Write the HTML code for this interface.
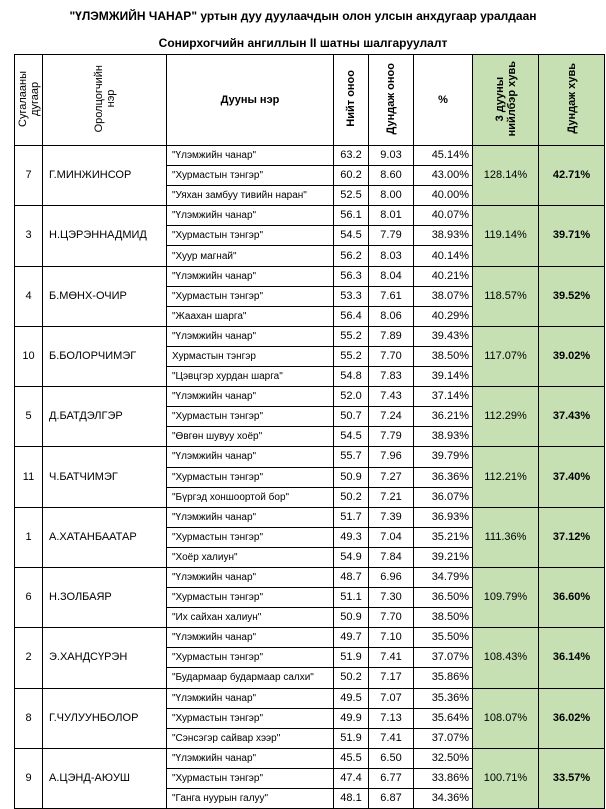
<!DOCTYPE html>
<html><head><meta charset="utf-8">
<style>
body{margin:0;width:606px;height:808px;background:#fff;overflow:hidden;font-family:"Liberation Sans",Arial,sans-serif;color:#000}
.t{position:absolute;left:0;width:606px;text-align:center;font-weight:bold;font-size:12px}
table{position:absolute;left:14px;top:54px;border-collapse:collapse;table-layout:fixed;font-size:11px}
td{border:1px solid #000;padding:0;height:19.1px;line-height:19px;overflow:hidden;white-space:nowrap}
th{border:1px solid #000;height:90px;font-weight:bold;font-size:11px;padding:0}
.v{writing-mode:vertical-rl;transform:rotate(180deg);display:inline-block;line-height:12px;text-align:center}
.g{background:#c6e0b4}
.c{text-align:center}
.r{text-align:right;padding-right:3px}
</style></head><body>
<div class="t" style="top:9px">"ҮЛЭМЖИЙН ЧАНАР" уртын дуу дуулаачдын олон улсын анхдугаар уралдаан</div>
<div class="t" style="top:36px">Сонирхогчийн ангиллын II шатны шалгаруулалт</div>
<table>
<colgroup><col style="width:28px"><col style="width:124px"><col style="width:167px"><col style="width:35px"><col style="width:45px"><col style="width:59px"><col style="width:66px"><col style="width:66px"></colgroup>
<thead><tr>
<th><span class="v" style="font-weight:normal">Сугалааны<br>дугаар</span></th>
<th><span class="v" style="font-weight:normal">Оролцогчийн<br>нэр</span></th>
<th>Дууны нэр</th>
<th><span class="v">Нийт оноо</span></th>
<th><span class="v">Дундаж оноо</span></th>
<th>%</th>
<th class="g"><span class="v">3 дууны<br>нийлбэр хувь</span></th>
<th class="g"><span class="v">Дундаж хувь</span></th>
</tr></thead>
<tbody id="tb"></tbody>
</table>
<script>
const nums=["7","3","4","10","5","11","1","6","2","8","9"];
const names=["Г.МИНЖИНСОР","Н.ЦЭРЭННАДМИД","Б.МӨНХ-ОЧИР","Б.БОЛОРЧИМЭГ","Д.БАТДЭЛГЭР","Ч.БАТЧИМЭГ","А.ХАТАНБААТАР","Н.ЗОЛБАЯР","Э.ХАНДСҮРЭН","Г.ЧУЛУУНБОЛОР","А.ЦЭНД-АЮУШ"];
const third=['"Уяхан замбуу тивийн наран"','"Хуур магнай"','"Жаахан шарга"','"Цэвцгэр хурдан шарга"','"Өвгөн шувуу хоёр"','"Бүргэд хоншоортой бор"','"Хоёр халиун"','"Их сайхан халиун"','"Будармаар будармаар салхи"','"Сэнсэгэр сайвар хээр"','"Ганга нуурын галуу"'];
const totals=[[63.2,60.2,52.5],[56.1,54.5,56.2],[56.3,53.3,56.4],[55.2,55.2,54.8],[52.0,50.7,54.5],[55.7,50.9,50.2],[51.7,49.3,54.9],[48.7,51.1,50.9],[49.7,51.9,50.2],[49.5,49.9,51.9],[45.5,47.4,48.1]];
const avgs=[[9.03,8.60,8.00],[8.01,7.79,8.03],[8.04,7.61,8.06],[7.89,7.70,7.83],[7.43,7.24,7.79],[7.96,7.27,7.21],[7.39,7.04,7.84],[6.96,7.30,7.70],[7.10,7.41,7.17],[7.07,7.13,7.41],[6.50,6.77,6.87]];
const pcts=[[45.14,43.00,40.00],[40.07,38.93,40.14],[40.21,38.07,40.29],[39.43,38.50,39.14],[37.14,36.21,38.93],[39.79,36.36,36.07],[36.93,35.21,39.21],[34.79,36.50,38.50],[35.50,37.07,35.86],[35.36,35.64,37.07],[32.50,33.86,34.36]];
const sums=[128.14,119.14,118.57,117.07,112.29,112.21,111.36,109.79,108.43,108.07,100.71];
const avgPct=[42.71,39.71,39.52,39.02,37.43,37.40,37.12,36.60,36.14,36.02,33.57];
const tb=document.getElementById('tb');
for(let i=0;i<nums.length;i++){
  const songs=['"Үлэмжийн чанар"',i===3?'Хурмастын тэнгэр':'"Хурмастын тэнгэр"',third[i]];
  for(let j=0;j<3;j++){
    const tr=document.createElement('tr');
    
    
    let h='';
    if(j===0){
      h+='<td rowspan="3" class="c">'+nums[i]+'</td>';
      h+='<td rowspan="3" style="padding-left:6px">'+names[i]+'</td>';
    }
    h+='<td style="padding-left:5px;font-size:10px">'+songs[j]+'</td>';
    h+='<td class="c">'+totals[i][j].toFixed(1)+'</td>';
    h+='<td class="c">'+avgs[i][j].toFixed(2)+'</td>';
    h+='<td class="r">'+pcts[i][j].toFixed(2)+'%</td>';
    if(j===0){
      h+='<td rowspan="3" class="c g">'+sums[i].toFixed(2)+'%</td>';
      h+='<td rowspan="3" class="c g" style="font-weight:bold">'+avgPct[i].toFixed(2)+'%</td>';
    }
    tr.innerHTML=h;
    tb.appendChild(tr);
  }
}
</script>
</body></html>
